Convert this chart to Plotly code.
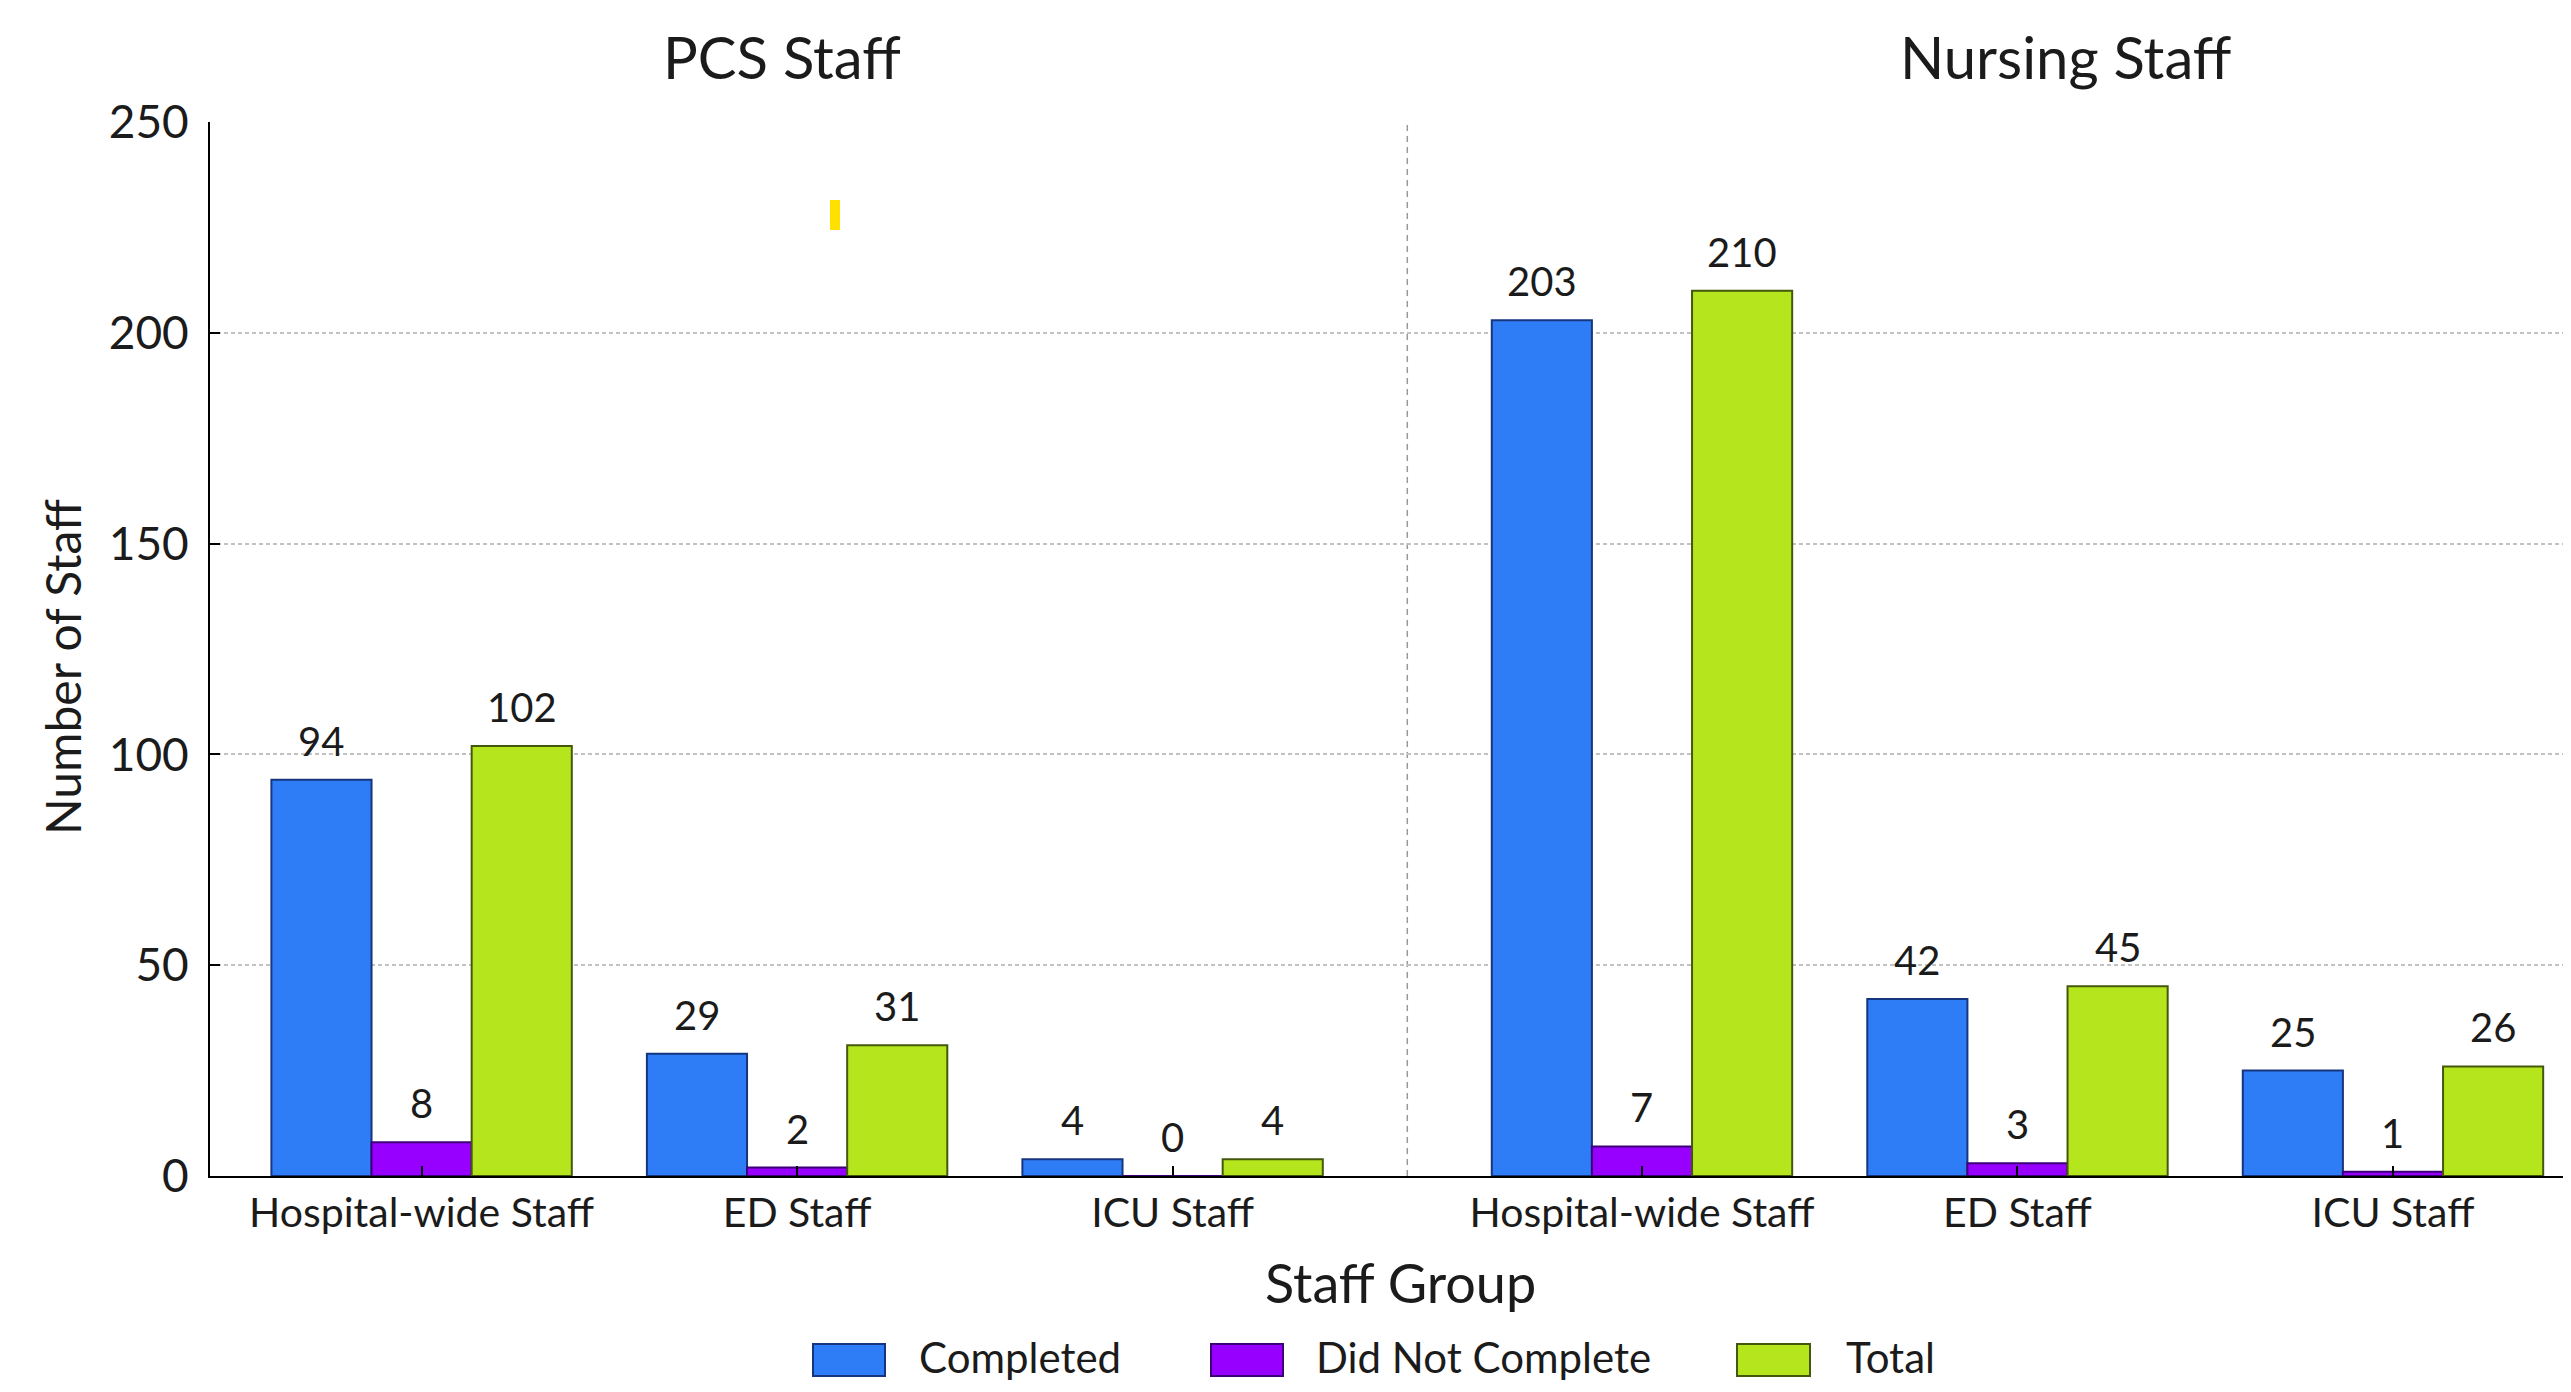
import plotly.graph_objects as go

# ---------------- data ----------------
categories = ["Hospital-wide Staff", "ED Staff", "ICU Staff",
              "Hospital-wide Staff", "ED Staff", "ICU Staff"]
group_titles = ["PCS Staff", "Nursing Staff"]
x_pos = [0, 1, 2, 3.25, 4.25, 5.25]
completed = [94, 29, 4, 203, 42, 25]
did_not_complete = [8, 2, 0, 7, 3, 1]
total = [102, 31, 4, 210, 45, 26]
series_names = ["Completed", "Did Not Complete", "Total"]
y_ticks = [0, 50, 100, 150, 200, 250]

# ---------------- style ----------------
FONT = "Lato"
TXT = "#1b1b1b"
fill_colors = ["#2F7DF6", "#9700FF", "#B5E61D"]
line_colors = ["#16357F", "#3E0078", "#43580C"]

OFF = 8  # page body margin
W, H = 2571 - 2 * OFF, 1392 - 2 * OFF
PLOT_L, PLOT_T, PLOT_B = 210, 122, 1176  # screenshot px
ML, MT = PLOT_L - OFF, PLOT_T - OFF
MB = H - (PLOT_B - OFF)
MR = 0
PW, PH = W - ML - MR, H - MT - MB


def px_x(px):
    return (px - PLOT_L) / PW


def px_y(py):
    return (PLOT_B - py) / PH


series = [completed, did_not_complete, total]
bargap = 0.2
bw = (1 - bargap) / len(series)

fig = go.Figure()
for j, (name, vals) in enumerate(zip(series_names, series)):
    fig.add_trace(go.Bar(
        x=x_pos, y=vals, name=name,
        marker=dict(color=fill_colors[j], line=dict(color=line_colors[j], width=2)),
        showlegend=False,
    ))

annotations = []
for j, vals in enumerate(series):
    off = (j - (len(series) - 1) / 2) * bw
    for xp, v in zip(x_pos, vals):
        annotations.append(dict(
            x=xp + off, y=v, xref="x", yref="y", text=str(v), showarrow=False,
            yanchor="bottom", yshift=13, font=dict(family=FONT, size=40, color=TXT)))

annotations.append(dict(x=px_x(782), y=px_y(57), xref="paper", yref="paper",
                        text=group_titles[0], showarrow=False, xanchor="center",
                        yanchor="middle", font=dict(family=FONT, size=58, color=TXT)))
annotations.append(dict(x=px_x(2065), y=px_y(57), xref="paper", yref="paper",
                        text=group_titles[1], showarrow=False, xanchor="center",
                        yanchor="middle", font=dict(family=FONT, size=58, color=TXT)))
annotations.append(dict(x=px_x(1400), y=px_y(1282), xref="paper", yref="paper",
                        text="Staff Group", showarrow=False, xanchor="center",
                        yanchor="middle", font=dict(family=FONT, size=54, color=TXT)))
annotations.append(dict(x=px_x(62), y=px_y(667), xref="paper", yref="paper",
                        text="Number of Staff", showarrow=False, textangle=-90,
                        xanchor="center", yanchor="middle",
                        font=dict(family=FONT, size=48, color=TXT)))

shapes = []
sep = (x_pos[2] + x_pos[3]) / 2
shapes.append(dict(type="line", xref="x", yref="y", x0=sep, x1=sep, y0=0, y1=y_ticks[-1],
                   line=dict(color="#999999", width=1.5, dash="6px,5px"), layer="below"))
shapes.append(dict(type="rect", xref="paper", yref="paper",
                   x0=px_x(830), x1=px_x(840), y0=px_y(230), y1=px_y(200),
                   fillcolor="#FFE000", line=dict(width=0)))

leg_boxes = [(813, 885, 917), (1211, 1283, 1314), (1737, 1810, 1844)]
for j, (bx0, bx1, tx) in enumerate(leg_boxes):
    shapes.append(dict(type="rect", xref="paper", yref="paper",
                       x0=px_x(bx0), x1=px_x(bx1), y0=px_y(1376), y1=px_y(1344),
                       fillcolor=fill_colors[j], line=dict(color=line_colors[j], width=2)))
    annotations.append(dict(x=px_x(tx), y=px_y(1357), xref="paper", yref="paper",
                            text=series_names[j], showarrow=False, xanchor="left",
                            yanchor="middle", font=dict(family=FONT, size=42, color=TXT)))

fig.update_layout(
    width=W, height=H,
    margin=dict(l=ML, r=MR, t=MT, b=MB, pad=0),
    paper_bgcolor="white", plot_bgcolor="white",
    barmode="group", bargap=bargap, bargroupgap=0,
    font=dict(family=FONT, color=TXT),
    annotations=annotations, shapes=shapes,
    showlegend=False,
)
unit_px = 375.5
x_left = x_pos[0] - (421.6 - PLOT_L) / unit_px
x_right = x_left + PW / unit_px
fig.update_xaxes(
    range=[x_left, x_right], tickvals=x_pos, ticktext=categories,
    showline=True, linecolor="black", linewidth=2,
    ticks="inside", ticklen=10, tickwidth=2, tickcolor="black",
    tickfont=dict(family=FONT, size=41, color=TXT),
    showgrid=False, zeroline=False, layer="above traces",
)
fig.update_yaxes(
    range=[0, y_ticks[-1]], tickvals=y_ticks,
    showline=True, linecolor="black", linewidth=2,
    ticks="inside", ticklen=10, tickwidth=2, tickcolor="black",
    tickfont=dict(family=FONT, size=46, color=TXT),
    showgrid=True, gridcolor="#c2c2c2", gridwidth=1.5, griddash="4px,3px",
    zeroline=False, ticklabelstandoff=10,
)

fig.write_html("out.html")
